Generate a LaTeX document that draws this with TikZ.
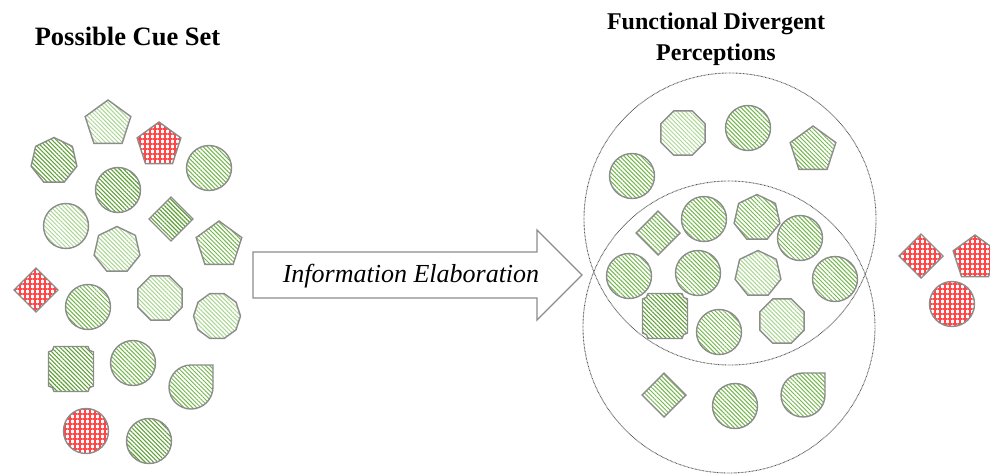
\documentclass[tikz,border=0pt]{standalone}
\usepackage{fontspec}
\setmainfont{Liberation Serif}
\usetikzlibrary{shapes.geometric,patterns.meta}

\definecolor{edgegray}{RGB}{140,140,140}
\definecolor{ringgray}{RGB}{80,80,80}
\definecolor{GDark}{RGB}{95,160,55}
\definecolor{GMid}{RGB}{115,182,75}
\definecolor{GLight}{RGB}{170,214,145}
\definecolor{RedGrid}{RGB}{255,70,70}

\tikzset{
  cue/.style={draw=edgegray, line width=1.4pt, inner sep=0pt, outer sep=0pt},
  gdark/.style={pattern={Lines[angle=-45,distance=3pt,line width=1.1pt]}, pattern color=GDark},
  gmid/.style={pattern={Lines[angle=-45,distance=3pt,line width=1pt]}, pattern color=GMid},
  glight/.style={pattern={Lines[angle=-45,distance=3pt,line width=1pt]}, pattern color=GLight},
  redgrid/.style={pattern={Hatch[angle=0,distance=5pt,line width=1.4pt]}, pattern color=RedGrid},
  disc/.style={cue, circle, minimum size=45pt},
  penta/.style={cue, regular polygon, regular polygon sides=5, minimum size=48pt},
  hepta/.style={cue, regular polygon, regular polygon sides=7, minimum size=47pt},
  octa/.style={cue, regular polygon, regular polygon sides=8, minimum size=48pt},
  deca/.style={cue, regular polygon, regular polygon sides=10, minimum size=47pt},
  rhomb/.style={cue, diamond, minimum size=44pt},
  ring/.style={circle, draw=ringgray, line width=0.9pt, dash pattern=on 0.7pt off 0.7pt, minimum size=292pt, inner sep=0pt},
  title/.style={font=\bfseries\fontsize{24}{29}\selectfont, anchor=base, inner sep=0pt},
  teardrop/.pic={\path[cue,#1] (22,0) -- (22,22) -- (0,22) arc[start angle=90,end angle=360,radius=22] -- cycle;},
  plaque/.pic={\path[cue,#1] (-17,22.5) -- (17,22.5) arc[start angle=180,end angle=270,radius=5.5]
      -- (22.5,-17) arc[start angle=90,end angle=180,radius=5.5]
      -- (-17,-22.5) arc[start angle=0,end angle=90,radius=5.5]
      -- (-22.5,17) arc[start angle=270,end angle=360,radius=5.5] -- cycle;},
}

\begin{document}
\begin{tikzpicture}[x=1pt,y=1pt]
\useasboundingbox (0,0) rectangle (990,-474);

% titles
\node[title, font=\bfseries\fontsize{26.5}{30}\selectfont] (cuetitle) at (127.5,-45) {Possible Cue Set};
\node[title] (fdtitle1) at (716,-29) {Functional Divergent};
\node[title] (fdtitle2) at (716,-60) {Perceptions};

% the set of possible cues
\node[penta, glight] (l1) at (108,-124) {};
\node[penta, redgrid, minimum size=46pt] (l2) at (159,-145) {};
\node[hepta, gdark] (l3) at (54,-161) {};
\node[disc, gmid] (l4) at (209,-168) {};
\node[disc, gdark] (l5) at (118,-190) {};
\node[disc, glight] (l6) at (66,-226) {};
\node[rhomb, gdark] (l7) at (171,-219) {};
\node[hepta, glight] (l8) at (117,-250) {};
\node[penta, gmid] (l9) at (219,-245) {};
\node[rhomb, redgrid] (l10) at (36,-290) {};
\node[disc, gmid] (l11) at (88,-307) {};
\node[octa, glight] (l12) at (160,-298) {};
\node[deca, glight] (l13) at (217,-316) {};
\coordinate (l14) at (71,-369);
\pic at (l14) {plaque=gdark};
\node[disc, gmid] (l15) at (133,-363) {};
\coordinate (l16) at (191,-387);
\pic at (l16) {teardrop=gmid};
\node[disc, redgrid] (l17) at (86,-431) {};
\node[disc, gdark] (l18) at (149,-441) {};

% elaboration arrow
\coordinate (a0) at (253,-252);
\coordinate (tip) at (582,-275);
\path[draw=edgegray, line width=1.3pt, fill=white]
  (a0) -- (537,-252) -- (537,-230) -- (tip) -- (537,-320) -- (537,-298) -- (253,-298) -- cycle;
\node[font=\itshape\fontsize{26}{30}\selectfont, inner sep=0pt] (elab) at (411,-276) {Information Elaboration};

% two overlapping perceptions
\node[ring] (upper) at (730,-219) {};
\node[ring] (lower) at (729,-327) {};

% cues in the upper perception only
\node[disc, gmid] (r1) at (632,-176) {};
\node[octa, glight] (r2) at (683,-133) {};
\node[disc, gmid] (r3) at (748,-128) {};
\node[penta, gmid] (r4) at (813,-150) {};

% shared cues
\node[rhomb, gmid] (r5) at (658,-233) {};
\node[disc, gmid] (r6) at (704,-219) {};
\node[hepta, gmid] (r7) at (757,-218) {};
\node[disc, gmid] (r8) at (800,-238) {};
\node[disc, gmid] (r9) at (629,-276) {};
\node[disc, gmid] (r10) at (698,-273) {};
\node[hepta, glight] (r11) at (758,-274) {};
\node[disc, gmid] (r12) at (835,-279) {};
\coordinate (r13) at (665,-316);
\pic at (r13) {plaque=gdark};
\node[disc, gmid] (r14) at (719,-332) {};
\node[octa, glight] (r15) at (782,-321) {};

% cues in the lower perception only
\node[rhomb, gmid] (r16) at (664,-395) {};
\node[disc, gmid] (r17) at (735,-406) {};
\coordinate (r18) at (803,-395);
\pic at (r18) {teardrop=gmid};

% discarded cues
\node[rhomb, redgrid] (x1) at (921,-256) {};
\node[penta, redgrid, minimum size=46pt] (x2) at (975,-258) {};
\node[disc, redgrid] (x3) at (952,-304) {};
\end{tikzpicture}
\end{document}
